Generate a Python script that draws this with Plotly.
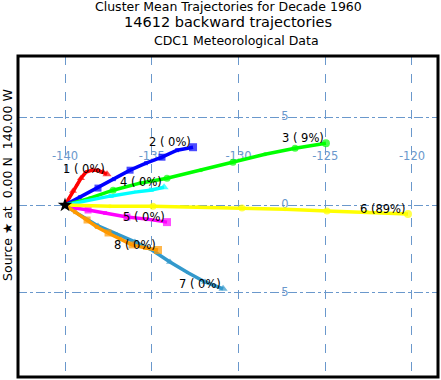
import plotly.graph_objects as go

# ---- data (lon, lat in degrees) ----
cluster_ids = [1, 2, 3, 4, 5, 6, 7, 8]
cluster_pct = [" 0", " 0", " 9", " 0", " 0", "89", " 0", " 0"]
colors = ["#ff0000", "#0000ff", "#00ff00", "#00ffff", "#ff00ff", "#ffff00", "#3399cc", "#ff9900"]
symbols = ["triangle-up", "square", "circle", "triangle-up", "square", "circle", "triangle-up", "square"]

lon1 = [-140, -139.77, -139.54, -139.31, -139.08, -138.79, -138.44, -138.10, -137.81, -137.58]
lat1 = [0, 0.40, 0.80, 1.19, 1.53, 1.88, 1.99, 1.99, 1.88, 1.76]
lon2 = [-140, -139.14, -138.10, -137.18, -136.25, -135.33, -134.41, -133.54, -132.62]
lat2 = [0, 0.45, 0.97, 1.48, 1.99, 2.39, 2.73, 3.13, 3.30]
lon3 = [-140, -138.56, -137.23, -135.68, -134.12, -132.16, -130.32, -128.47, -126.74, -124.96]
lat3 = [0, 0.40, 0.85, 1.25, 1.53, 1.99, 2.44, 2.90, 3.24, 3.52]
lon4 = [-140, -138.85, -137.41, -135.97, -135.10, -134.29]
lat4 = [0, 0.23, 0.51, 0.74, 0.85, 1.02]
lon5 = [-140, -139.42, -138.67, -137.69, -136.43, -135.27, -134.12]
lat5 = [0, -0.17, -0.28, -0.45, -0.68, -0.80, -0.97]
lon6 = [-140, -137.41, -134.93, -132.33, -129.80, -127.32, -124.90, -122.59, -120.23]
lat6 = [0, -0.06, -0.06, -0.11, -0.17, -0.23, -0.34, -0.40, -0.51]
lon7 = [-140, -139.14, -138.10, -137.00, -135.97, -134.99, -133.95, -132.91, -131.93, -130.89]
lat7 = [0, -0.57, -1.19, -1.65, -2.10, -2.56, -3.24, -3.86, -4.38, -4.77]
lon8 = [-140, -139.42, -138.73, -138.16, -137.52, -136.83, -136.14, -135.39, -134.64]
lat8 = [0, -0.40, -0.85, -1.25, -1.59, -1.93, -2.27, -2.44, -2.56]

lons = [lon1, lon2, lon3, lon4, lon5, lon6, lon7, lon8]
lats = [lat1, lat2, lat3, lat4, lat5, lat6, lat7, lat8]

source_lon = [-140]
source_lat = [0]

lon_ticks = [-140, -135, -130, -125, -120]
lon_tick_labels = ["-140", "-135", "-130", "-125", "-120"]
lon_label_lat = 2.73
lat_ticks = [5, 0, -5]
lat_tick_labels = ["5", "0", "5"]
lat_label_lon = -127.32

grid_color = "#6a98cc"
font_family = "DejaVu Sans, Liberation Sans, Arial, sans-serif"

fig = go.Figure()

# tick labels drawn beneath the trajectories
fig.add_trace(go.Scatter(
    x=lon_ticks, y=[lon_label_lat] * len(lon_ticks), mode="text",
    text=lon_tick_labels, textfont=dict(color=grid_color, size=11.5, family=font_family),
    hoverinfo="skip", showlegend=False))
fig.add_trace(go.Scatter(
    x=[lat_label_lon] * len(lat_ticks), y=lat_ticks, mode="text",
    text=lat_tick_labels, textfont=dict(color=grid_color, size=11.5, family=font_family),
    hoverinfo="skip", showlegend=False))

for i in range(len(cluster_ids)):
    n = len(lons[i])
    sizes = [7 if k % 2 == 0 else 4 for k in range(n)]
    sizes[0] = 4
    sizes[-1] = 8
    fig.add_trace(go.Scatter(
        x=lons[i], y=lats[i], mode="lines+markers",
        line=dict(color=colors[i], width=3.5, dash="solid"),
        marker=dict(color=colors[i], symbol=symbols[i], size=sizes,
                    line=dict(width=0, color=colors[i])),
        showlegend=False, hoverinfo="skip"))

fig.add_trace(go.Scatter(
    x=source_lon, y=source_lat, mode="markers",
    marker=dict(symbol="star", color="black", size=11, line=dict(width=0)),
    showlegend=False, hoverinfo="skip"))

for i in range(len(cluster_ids)):
    fig.add_annotation(
        x=lons[i][-1], y=lats[i][-1], text=f"{cluster_ids[i]} ({cluster_pct[i]}%)",
        showarrow=False, xanchor="right", yanchor="middle", yshift=5,
        font=dict(color="black", size=11.5, family=font_family))

# titles
h = 380 - 56 - 3
def py(p):
    return 1 + (56 - p) / h

fig.add_annotation(x=0.501, y=py(6.5), xref="paper", yref="paper", showarrow=False,
                   text="Cluster Mean Trajectories for Decade 1960",
                   font=dict(size=12.5, color="black", family=font_family), yanchor="middle")
fig.add_annotation(x=0.500, y=py(22.5), xref="paper", yref="paper", showarrow=False,
                   text="14612 backward trajectories",
                   font=dict(size=14.5, color="black", family=font_family), yanchor="middle")
fig.add_annotation(x=0.520, y=py(40), xref="paper", yref="paper", showarrow=False,
                   text="CDC1 Meteorological Data",
                   font=dict(size=12.5, color="black", family=font_family), yanchor="middle")
fig.add_annotation(x=-0.024, y=py(185), xref="paper", yref="paper", showarrow=False,
                   text="Source \u2605 at  0.00 N  140.00 W", textangle=-90,
                   xanchor="center", yanchor="middle",
                   font=dict(size=12.5, color="black", family=font_family))

fig.update_layout(
    width=441, height=380,
    margin=dict(l=18, r=3, t=56, b=3),
    paper_bgcolor="white", plot_bgcolor="white",
    xaxis=dict(range=[-142.71, -118.5], tickvals=lon_ticks, showticklabels=False,
               showgrid=True, gridcolor=grid_color, gridwidth=1, griddash="dash",
               zeroline=False, ticks="", fixedrange=True),
    yaxis=dict(range=[-9.8, 8.5], tickvals=lat_ticks, showticklabels=False,
               showgrid=True, gridcolor=grid_color, gridwidth=1, griddash="dashdot",
               zeroline=False, ticks="", fixedrange=True),
    shapes=[dict(type="rect", xref="paper", yref="paper", x0=0, x1=1, y0=0, y1=1,
                 line=dict(color="black", width=3))],
)

fig.write_html("out.html", config={"staticPlot": True},
               post_script="document.body.style.margin='0';document.body.style.overflow='hidden';")
